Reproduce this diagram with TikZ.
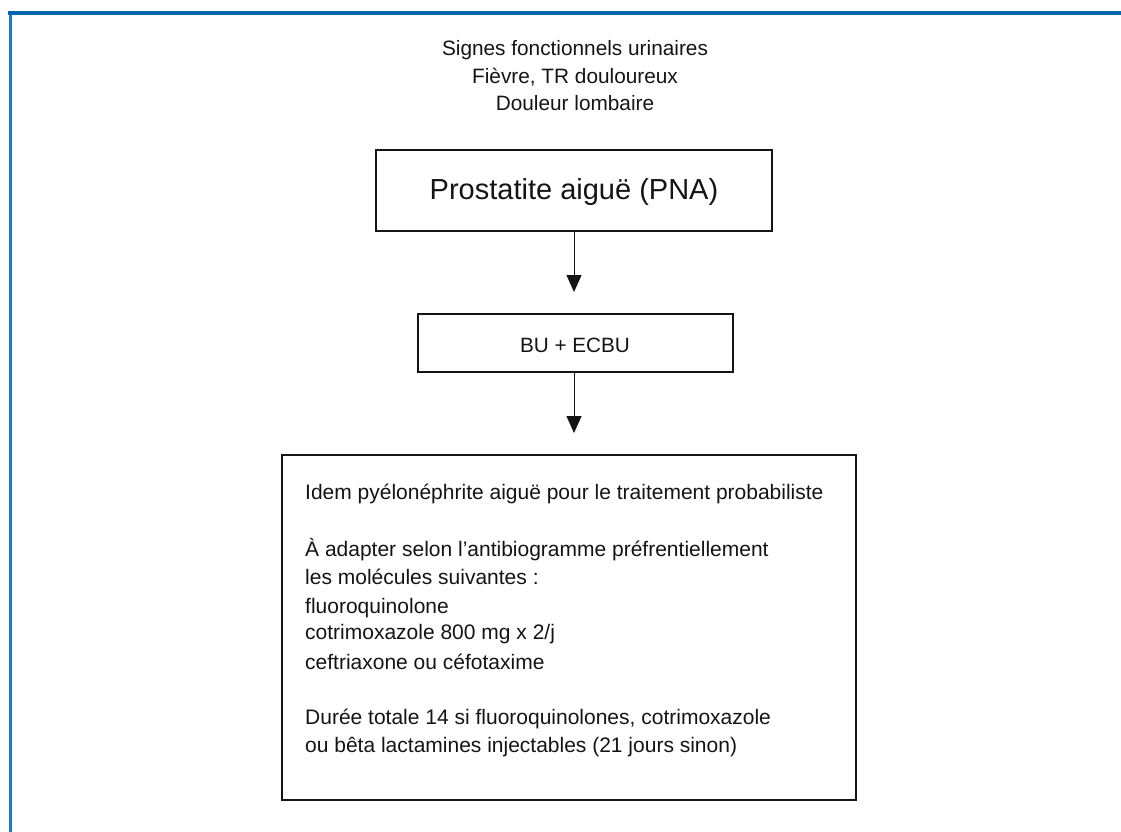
\documentclass[tikz,border=0pt]{standalone}
\usepackage{fontspec}
\setmainfont{Liberation Sans}
\usetikzlibrary{arrows.meta}
\definecolor{frameblue}{RGB}{0,102,178}
\definecolor{frameblueb}{RGB}{30,122,200}
\definecolor{ink}{RGB}{20,20,20}
\tikzset{
  flowbox/.style={draw=ink, line width=1.3pt, inner sep=0pt},
  flowarrow/.style={draw=ink, line width=1pt, -{Triangle[length=17pt,width=15pt]}, shorten >=22pt},
  bodytext/.style={anchor=west, inner sep=0pt, font=\fontsize{21}{25}\selectfont, text=ink},
}
\begin{document}
\begin{tikzpicture}[x=1pt,y=-1pt]
\useasboundingbox (0,0) rectangle (1121,832);
% page frame
\draw[frameblueb, line width=2.7pt] (10.3,12) -- (10.3,832);
\draw[frameblue, line width=4pt] (8,13) -- (1121,13);

% header text
\node[align=center, inner sep=0pt, text=ink, font=\fontsize{20.8}{27.5}\selectfont] (header) at (575,76)
  {Signes fonctionnels urinaires\\Fièvre, TR douloureux\\Douleur lombaire};

% boxes
\node[flowbox, minimum width=396pt, minimum height=81pt] (pna) at (574,190.5) {};
\node[inner sep=0pt, font=\fontsize{29}{34}\selectfont, text=ink] (pnatext) at (574,192) {Prostatite aiguë (PNA)};

\node[flowbox, minimum width=315pt, minimum height=58pt] (bu) at (575.5,343) {};
\node[inner sep=0pt, font=\fontsize{20.7}{24}\selectfont, text=ink] (butext) at (575,345) {BU + ECBU};

\node[flowbox, minimum width=574pt, minimum height=345pt] (trt) at (569,627.5) {};
\node[bodytext] (l1) at (305,494) {Idem pyélonéphrite aiguë pour le traitement probabiliste};
\node[bodytext] (l2) at (305,550) {À adapter selon l’antibiogramme préfrentiellement};
\node[bodytext] (l3) at (305,577) {les molécules suivantes :};
\node[bodytext] (l4) at (305,608) {fluoroquinolone};
\node[bodytext] (l5) at (305,634) {cotrimoxazole 800 mg x 2/j};
\node[bodytext] (l6) at (305,662) {ceftriaxone ou céfotaxime};
\node[bodytext] (l7) at (305,719) {Durée totale 14 si fluoroquinolones, cotrimoxazole};
\node[bodytext] (l8) at (305,747) {ou bêta lactamines injectables (21 jours sinon)};

% connectors
\draw[flowarrow] (pna.south -| 574,0) -- (574,314);
\draw[flowarrow] (bu.south -| 574,0) -- (574,455);
\end{tikzpicture}
\end{document}
